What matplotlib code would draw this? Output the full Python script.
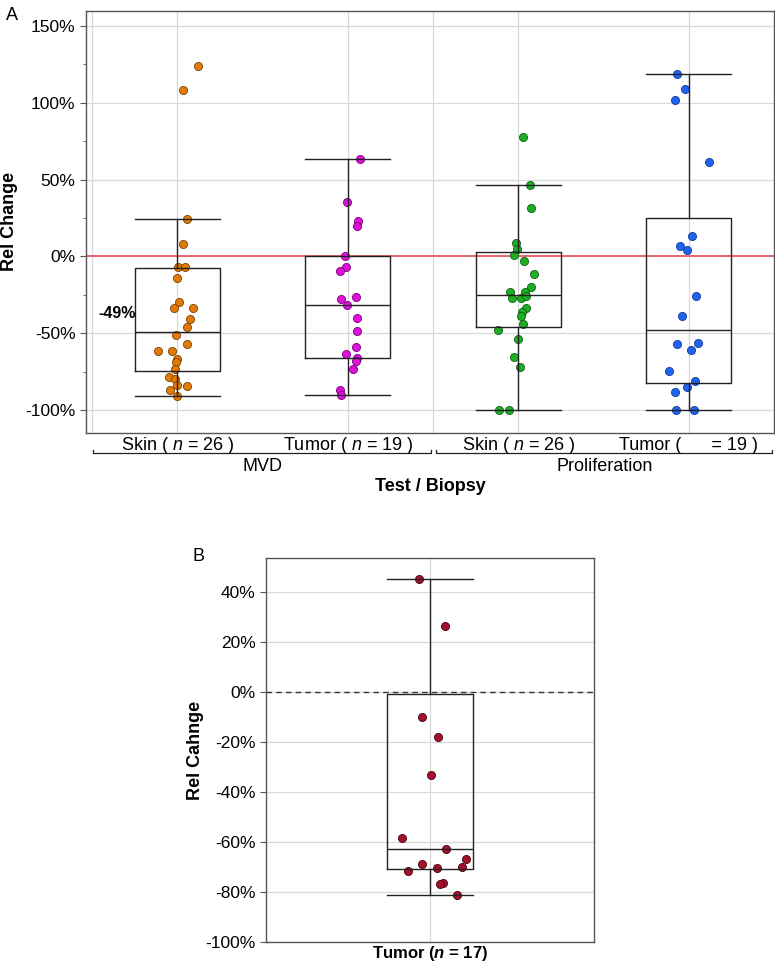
import matplotlib as mpl
mpl.use('agg')
import matplotlib.pyplot as plt
import matplotlib.transforms as mtransforms
from matplotlib.ticker import FuncFormatter, MultipleLocator

plt.rcParams['font.family'] = ['Liberation Sans', 'DejaVu Sans']
plt.rcParams['mathtext.fontset'] = 'custom'
plt.rcParams['mathtext.it'] = 'Liberation Sans:italic'
plt.rcParams['mathtext.rm'] = 'Liberation Sans'
plt.rcParams['mathtext.bfit'] = 'Liberation Sans:bold:italic'

# ---- panel A data (relative change, %) ----
a_labels = ['Skin ( $\\it{n}$ = 26 )', 'Tumor ( $\\it{n}$ = 19 )',
            'Skin ( $\\it{n}$ = 26 )', 'Tumor (      = 19 )']
a_groups = ['MVD', 'Proliferation']
a_colors = ['#E27A08', '#E010DC', '#1DAE24', '#1F63F5']
a_edges = ['#7a4000', '#7a0078', '#0d5e10', '#123a8c']

skin_mvd = [123.9, 108.3, 24.3, 8.1, -7.0, -7.0, -13.8, -29.5, -33.3, -33.7,
            -40.9, -46.2, -51.4, -56.9, -61.7, -61.7, -66.7, -68.9, -73.3,
            -78.8, -79.9, -84.0, -86.9, -84.7, -91.0]
skin_mvd_jit = [0.123, 0.031, 0.055, 0.033, 0.002, 0.047, -0.002, 0.008, -0.020,
                0.094, 0.074, 0.055, -0.008, 0.059, -0.113, -0.029, 0.0, -0.010,
                -0.016, -0.051, -0.014, -0.004, -0.041, 0.059, 0.0]

tumor_mvd = [63.7, 35.7, 23.2, 20.1, 0.4, -7.0, -9.2, -28.0, -26.3, -31.7,
             -40.0, -48.8, -59.1, -63.5, -66.1, -68.3, -73.1, -87.3, -90.2]
tumor_mvd_jit = [0.072, -0.004, 0.063, 0.055, -0.016, -0.012, -0.043, -0.041,
                 0.047, -0.002, 0.057, 0.055, 0.049, -0.012, 0.053, 0.051,
                 0.031, -0.047, -0.041]

skin_pro = [77.5, 46.4, 31.5, 8.8, 4.6, 1.1, -3.1, -11.2, -19.7, -23.4, -23.0,
            -27.4, -27.4, -25.6, -33.7, -36.5, -38.9, -43.8, -48.1, -53.6,
            -65.6, -71.8, -100.0, -100.0]
skin_pro_jit = [0.027, 0.070, 0.074, -0.012, -0.006, -0.025, 0.035, 0.090,
                0.074, -0.047, 0.039, -0.035, 0.016, 0.045, 0.047, 0.023,
                0.014, 0.029, -0.117, 0.0, -0.025, 0.010, -0.111, -0.057]

tumor_pro = [119.0, 109.0, 101.8, 61.5, 13.6, 6.6, 4.2, -25.6, -38.9, -57.1,
             -56.2, -60.8, -74.8, -81.0, -85.3, -88.6, -100.0, -100.0]
tumor_pro_jit = [-0.068, -0.021, -0.082, 0.119, 0.020, -0.049, -0.012, 0.045,
                 -0.041, -0.066, 0.053, 0.014, -0.117, 0.037, -0.012, -0.082,
                 -0.072, 0.033]

a_values = [skin_mvd, tumor_mvd, skin_pro, tumor_pro]
a_jitter = [skin_mvd_jit, tumor_mvd_jit, skin_pro_jit, tumor_pro_jit]

# box stats: whislo, q1, med, q3, whishi
a_box = [(-91.0, -74.8, -49.0, -7.7, 24.3),
         (-90.2, -66.3, -31.9, 0.0, 63.7),
         (-100.0, -46.0, -25.2, 2.8, 46.4),
         (-100.0, -82.5, -47.7, 25.2, 119.0)]

# ---- panel B data ----
b_label = 'Tumor ($\\mathbfit{n}$ = 17)'
b_color = '#A3102A'
b_edge = '#4a0010'
b_values = [45.3, 26.5, -9.9, -18.0, -33.0, -58.1, -62.6, -66.7, -68.6,
            -69.7, -70.2, -71.6, -76.2, -76.8, -81.2]
b_jitter = [-0.033, 0.046, -0.023, 0.024, 0.002, -0.085, 0.048, 0.110, -0.025,
            0.098, 0.021, -0.068, 0.040, 0.030, 0.081]
b_box = (-81.2, -70.8, -62.8, -0.8, 45.3)


def pct(v, pos):
    return '%d%%' % v


def style_frame(ax):
    for s in ax.spines.values():
        s.set_color('#555555')
        s.set_linewidth(1.0)


fig = plt.figure(figsize=(7.75, 9.64), dpi=100)
line = dict(color='#222222', linewidth=1.0)

# ================= panel A =================
ax = fig.add_axes([0.111, 0.5508, 0.8877, 0.4381])
ax.set_xlim(0.465, 4.5)
ax.set_ylim(-115, 160)
ax.yaxis.set_major_locator(MultipleLocator(50))
ax.yaxis.set_minor_locator(MultipleLocator(25))
ax.yaxis.set_major_formatter(FuncFormatter(pct))
ax.grid(axis='y', color='#d8d8d8', linewidth=0.9)
for xv in [0.5, 1, 2, 2.5, 3, 4]:
    ax.axvline(xv, color='#d8d8d8', linewidth=0.9, zorder=0)
ax.set_axisbelow(True)
ax.axhline(0, color='#E8646C', linewidth=1.4, zorder=1)

for i, (vals, jit) in enumerate(zip(a_values, a_jitter)):
    xs = [i + 1 + j for j in jit]
    ax.scatter(xs, vals, s=34, color=a_colors[i], edgecolors=a_edges[i],
               linewidths=0.6, zorder=2)

stats = []
for lo, q1, med, q3, hi in a_box:
    stats.append(dict(whislo=lo, q1=q1, med=med, q3=q3, whishi=hi, fliers=[]))
ax.bxp(stats, positions=[1, 2, 3, 4], widths=0.5, capwidths=0.5,
       showfliers=False, boxprops=line, whiskerprops=line, capprops=line,
       medianprops=line, manage_ticks=False, zorder=3)

ax.text(0.755, -37, '-49%', ha='right', va='center', fontsize=11.5,
        fontweight='bold')

# category labels, group brackets and axis title
trans = mtransforms.blended_transform_factory(ax.transData, ax.transAxes)
ax.set_xticks([1, 2, 3, 4])
ax.set_xticklabels([])
ax.tick_params(axis='x', length=0)
for i, lab in enumerate(a_labels):
    ax.text(i + 1, -0.040, lab, ha='center', va='baseline', fontsize=13,
            transform=trans)
for k, (x0, x1) in enumerate([(0.507, 2.49), (2.52, 4.49)]):
    ax.plot([x0, x0, x1, x1], [-0.041, -0.047, -0.047, -0.041], color='#222222',
            linewidth=0.9, transform=trans, clip_on=False)
    ax.text((x0 + x1) / 2, -0.060, a_groups[k], ha='center', va='top',
            fontsize=13, transform=trans)
ax.text(0.5, -0.107, 'Test / Biopsy', ha='center', va='top', fontsize=13,
        fontweight='bold', transform=ax.transAxes)

ax.tick_params(axis='y', which='major', length=4, labelsize=12.5, color='#555555')
ax.tick_params(axis='y', which='minor', length=2.5, color='#555555')
ax.set_ylabel('Rel Change', fontsize=13, fontweight='bold')
ax.yaxis.set_label_coords(-0.099, 0.5)
style_frame(ax)
fig.text(0.008, 0.984, 'A', fontsize=13, va='center')

# ================= panel B =================
bx = fig.add_axes([0.343, 0.0225, 0.4235, 0.3985])
bx.set_xlim(0.5, 1.5)
bx.set_ylim(-100, 53.6)
bx.yaxis.set_major_locator(MultipleLocator(20))
bx.yaxis.set_major_formatter(FuncFormatter(pct))
bx.grid(axis='y', color='#d8d8d8', linewidth=0.9)
bx.axvline(1, color='#d8d8d8', linewidth=0.9, zorder=0)
bx.set_axisbelow(True)
bx.axhline(0, color='#333333', linewidth=1.0, linestyle=(0, (4, 3)), zorder=1)

bx.scatter([1 + j for j in b_jitter], b_values, s=34, color=b_color,
           edgecolors=b_edge, linewidths=0.6, zorder=2)
lo, q1, med, q3, hi = b_box
bx.bxp([dict(whislo=lo, q1=q1, med=med, q3=q3, whishi=hi, fliers=[])],
       positions=[1], widths=0.262, capwidths=0.262, showfliers=False,
       boxprops=line, whiskerprops=line, capprops=line, medianprops=line,
       manage_ticks=False, zorder=3)
bx.set_xticks([1])
bx.set_xticklabels([b_label], fontweight='bold')
bx.tick_params(axis='x', length=0, pad=1, labelsize=12)
bx.tick_params(axis='y', length=4, labelsize=12.5, color='#555555')
bx.set_ylabel('Rel Cahnge', fontsize=13, fontweight='bold', labelpad=1)
style_frame(bx)
fig.text(0.249, 0.423, 'B', fontsize=13, va='center')

fig.savefig('out.png', dpi=100)
